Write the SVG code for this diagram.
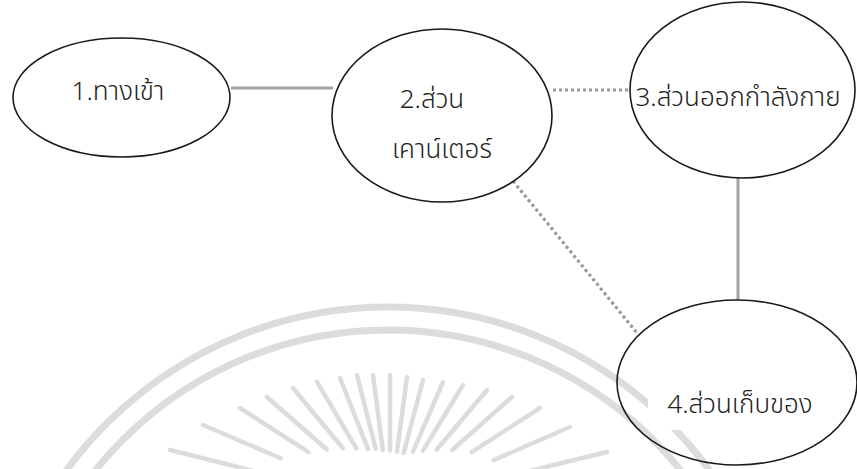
<svg xmlns="http://www.w3.org/2000/svg" width="857" height="469" viewBox="0 0 857 469">
<style>
.node{fill:none;stroke:#1a1a1a;stroke-width:1.6}
.lbl{font-family:"Noto Sans Thai","Noto Sans","DejaVu Sans",sans-serif;font-size:26px;font-weight:300;fill:#222;text-anchor:middle}
.solid{stroke:#a3a3a3;stroke-width:3;fill:none}
.dot{stroke:#999999;stroke-width:3.2;fill:none;stroke-dasharray:3 3}
.wm{stroke:#dcdcdc;fill:none}
</style>
<rect width="857" height="469" fill="#ffffff"/>
<g id="watermark" class="wm">
<circle cx="388" cy="705" r="398" stroke-width="7"/>
<circle cx="388" cy="705" r="375" stroke-width="7"/>
<g stroke-width="4.5" stroke-linecap="round">
<line x1="170" y1="450" x2="254.6" y2="471.1"/>
<line x1="203" y1="425" x2="280.6" y2="458.2"/>
<line x1="240" y1="408" x2="308.4" y2="452.2"/>
<line x1="267" y1="397" x2="326.8" y2="449.5"/>
<line x1="293" y1="388" x2="342.9" y2="448.2"/>
<line x1="317" y1="382" x2="356.4" y2="448.4"/>
<line x1="340" y1="378" x2="368" y2="449.1"/>
<line x1="357" y1="375" x2="375.7" y2="448.7"/>
<line x1="373" y1="375" x2="382.8" y2="450.1"/>
<line x1="390" y1="375" x2="390" y2="450.6"/>
<line x1="407" y1="377" x2="397" y2="451.8"/>
<line x1="423" y1="380" x2="403.7" y2="453"/>
<line x1="443" y1="382" x2="412.9" y2="451.9"/>
<line x1="463" y1="385" x2="423" y2="450.7"/>
<line x1="487" y1="390" x2="436.7" y2="449.7"/>
<line x1="512" y1="397" x2="452.5" y2="449.7"/>
<line x1="540" y1="408" x2="471.6" y2="452.2"/>
<line x1="570" y1="427" x2="493.4" y2="460.2"/>
<line x1="607" y1="452" x2="522.7" y2="472.6"/>
</g>
</g>
<g id="connectors">
<line class="solid" x1="231" y1="88" x2="333" y2="88"/>
<line class="dot" x1="553" y1="90" x2="631" y2="90"/>
<line class="dot" x1="513" y1="181" x2="637" y2="333"/>
<line class="solid" x1="738" y1="178" x2="738" y2="300"/>
</g>
<g id="node1">
<ellipse class="node" cx="121.5" cy="97.5" rx="108.5" ry="59.5"/>
<text class="lbl" x="118" y="100">1.ทางเข้า</text>
</g>
<g id="node2">
<ellipse class="node" cx="442" cy="115.5" rx="110" ry="86.5"/>
<text class="lbl" x="432" y="108">2.ส่วน</text>
<text class="lbl" x="442" y="158">เคาน์เตอร์</text>
</g>
<g id="node3">
<ellipse class="node" cx="742.5" cy="90" rx="112.5" ry="88"/>
<text class="lbl" x="738" y="106">3.ส่วนออกกำลังกาย</text>
</g>
<g id="node4">
<rect x="648" y="343" width="170" height="87" fill="#ffffff"/>
<ellipse class="node" cx="737" cy="382.5" rx="120" ry="82.5"/>
<text class="lbl" x="740" y="413">4.ส่วนเก็บของ</text>
</g>
</svg>
